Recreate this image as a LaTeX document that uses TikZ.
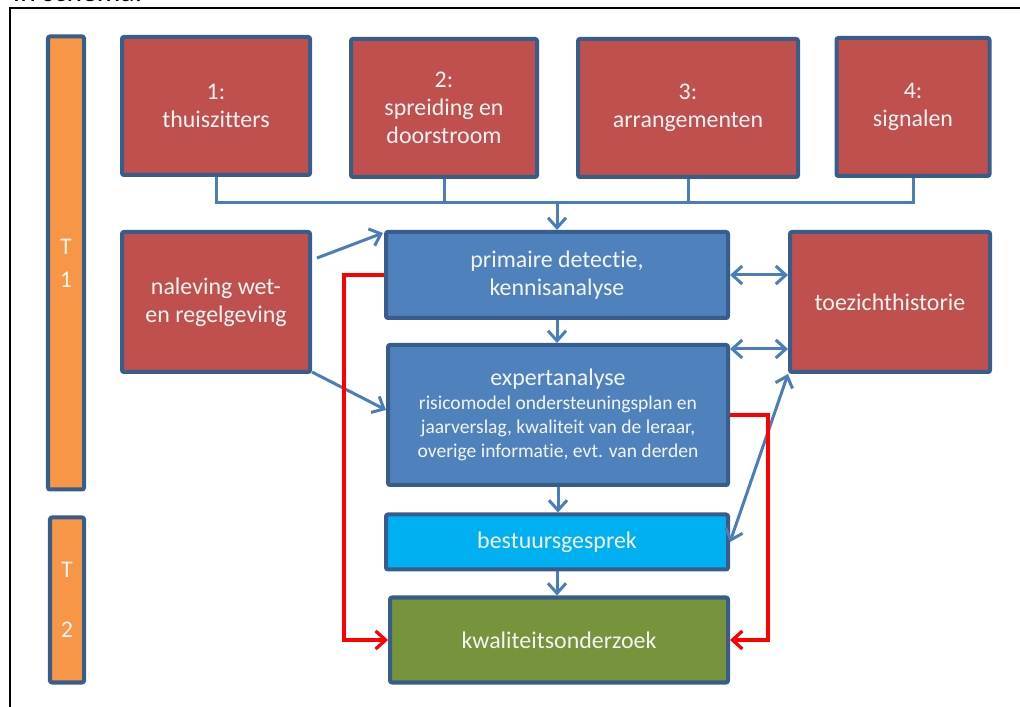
\documentclass[tikz,border=0pt]{standalone}
\usepackage{fontspec}
\setmainfont{Carlito}[Ligatures={NoCommon}]
\usetikzlibrary{arrows.meta,calc}
\definecolor{boxred}{HTML}{C0504D}
\definecolor{boxblue}{HTML}{4F81BD}
\definecolor{boxcyan}{HTML}{00B0F0}
\definecolor{boxgreen}{HTML}{77933C}
\definecolor{boxorange}{HTML}{F79646}
\definecolor{boxedge}{HTML}{385D8A}
\definecolor{arrowblue}{HTML}{4A7EBB}
\definecolor{boxtext}{HTML}{F4F4F4}
\newcommand{\mainfnt}{\fontsize{17}{19.9}\selectfont}
\newcommand{\smallfnt}{\fontsize{13.9}{17}\selectfont}

\begin{document}
\begin{tikzpicture}[x=0.025cm, y=-0.025cm,
    box/.style = {draw=boxedge, line width=0.1cm, rounded corners=0.05cm,
                text=boxtext, align=center, inner sep=0pt, font=\mainfnt},
    redbox/.style = {box, fill=boxred},
    bluebox/.style = {box, fill=boxblue},
    conn/.style = {draw=arrowblue, line width=0.075cm},
    arr/.style = {conn, -{Straight Barb[length=0.25cm,width=0.45cm]}},
    dblarr/.style = {conn, {Straight Barb[length=0.25cm,width=0.45cm]}-{Straight Barb[length=0.25cm,width=0.45cm]}},
    redarr/.style = {draw=red, line width=0.08cm, -{Straight Barb[length=0.25cm,width=0.45cm]}}
                    ]
        \def\px{0.025cm}
        \useasboundingbox (0,0) rectangle (1020,707);
        \clip (0,0) rectangle (1020,707);
        % heading and frame, cut off by the page
        \node[anchor=base west, font=\fontsize{21}{24}\selectfont] at (8,2) (title) {In schema:};
        \draw [black,line width=0.05cm] (10,730) -- (10,8) -- (1040,8);
        % the four themes
        \foreach \x/\y/\w/\n/\txt in {216/106/188/b1/{1:\\thuiszitters},
                                       444/108/186/b2/{2:\\spreiding en\\doorstroom},
                                       688/108/220/b3/{3:\\arrangementen},
                                       913/107/153/b4/{4:\\signalen}}
            \node[redbox, minimum width=\w*\px, minimum height=138*\px] at (\x,\y) (\n) {\txt};
        \node[redbox, minimum width=188*\px, minimum height=140*\px] at (216,302) (nal) {naleving wet-\\en regelgeving};
        \node[redbox, minimum width=200*\px, minimum height=140*\px] at (890,302) (toez) {toezichthistorie};
        \node[bluebox, minimum width=342*\px, minimum height=86*\px] at (557,275) (prim) {primaire detectie,\\kennisanalyse};
        \node[bluebox, minimum width=340*\px, minimum height=140*\px, font=\smallfnt] at (558,415) (exp)
            {{\mainfnt expertanalyse}\\risicomodel ondersteuningsplan en\\jaarverslag, kwaliteit van de leraar,\\overige informatie, evt. van derden};
        \node[box, fill=boxcyan, minimum width=342*\px, minimum height=55*\px] at (557,542) (best) {bestuursgesprek};
        \node[box, fill=boxgreen, minimum width=338*\px, minimum height=85*\px] at (559,640) (kwal) {kwaliteitsonderzoek};
        % time bars
        \node[box, fill=boxorange, minimum width=36*\px, minimum height=453*\px] at (66,263) (t1) {T\\[0.125cm]1};
        \node[box, fill=boxorange, minimum width=34*\px, minimum height=165*\px] at (67,600) (t2) {T\\[0.8cm]2};
        % connectors
        \coordinate (bus) at (557,203);
        \coordinate (e1) at ($(exp.north east)+(0,6)$);
        \draw [conn] (b1.south) |- (bus) -| (b4.south);
        \draw [conn] (b2.south) -- (b2.south |- bus);
        \draw [conn] (b3.south) -- (b3.south |- bus);
        \draw [arr] (bus) -- (prim.north);
        \draw [arr] ($(nal.east)+(5,-44)$) -- ($(prim.north west)+(-1,3)$);
        \draw [arr] ($(nal.south east)+(0,-2)$) -- ($(exp.west)+(0,-5)$);
        \draw [arr] (prim.south) -- (prim.south |- exp.north);
        \draw [arr] (exp.south) -- (exp.south |- best.north);
        \draw [arr] (best.south) -- (best.south |- kwal.north);
        \draw [dblarr] (prim.east) -- (prim.east -| toez.west);
        \draw [dblarr] (e1) -- (e1 -| toez.west);
        \draw [dblarr] (toez.south west) -- (best.east);
        \draw [redarr] (prim.west) -- ++(-40,0) |- (kwal.west);
        \draw [redarr] (exp.east) -- ++(38,0) |- (kwal.east);
    \end{tikzpicture}
\end{document}
